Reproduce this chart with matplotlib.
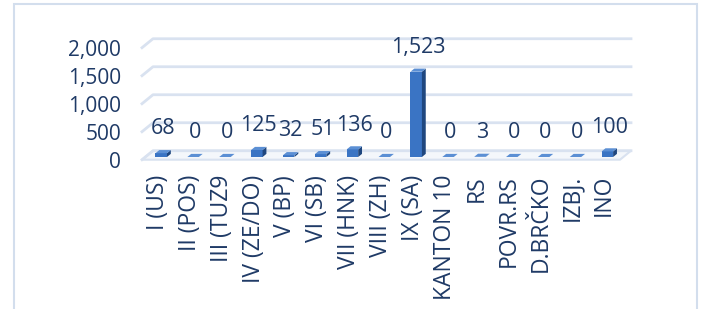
import matplotlib.pyplot as plt
from matplotlib.patches import Polygon, Rectangle

# chart data
categories = ['I (US)', 'II (POS)', 'III (TUZ9', 'IV (ZE/DO)', 'V (BP)', 'VI (SB)',
              'VII (HNK)', 'VIII (ZH)', 'IX (SA)', 'KANTON 10', 'RS', 'POVR.RS',
              'D.BRČKO', 'IZBJ.', 'INO']
values = [68, 0, 0, 125, 32, 51, 136, 0, 1523, 0, 3, 0, 0, 0, 100]
y_ticks = [0, 500, 1000, 1500, 2000]

TEXT = '#1f3a66'
GRID = '#d9e2f0'
FRONT = '#3a74c4'
SIDE = '#1f477f'
TOP = '#5b8fd4'

# pseudo-3d depth of the floor, in data units
dx, dy = 0.345, 160
d0, bd, w = 0.3, 0.35, 0.36

plt.rcParams['font.family'] = ['Open Sans', 'DejaVu Sans']

W, H = 701, 309
fig = plt.figure(figsize=(W / 100, H / 100), dpi=100)
fig.patch.set_facecolor('white')

# outer chart border
fig.patches.append(Rectangle((14 / W, -0.1), 683 / W, 1.1 - 4 / H,
                             transform=fig.transFigure, fill=False,
                             edgecolor='#d3deed', linewidth=1.5))

left, right, top, bottom = 142, 620, 47.7, 159.7
ax = fig.add_axes([left / W, 1 - bottom / H, (right - left) / W, (bottom - top) / H])
ax.set_xlim(-0.5, len(categories) - 0.5)
ax.set_ylim(0, 2000)
for s in ax.spines.values():
    s.set_visible(False)
ax.patch.set_alpha(0)

n = len(categories)
# floor
floor = Polygon([(-0.5, 0), (n - 0.5, 0), (n - 0.5 + dx, dy), (-0.5 + dx, dy)],
                closed=True, facecolor='#f4f7fb', edgecolor=GRID, linewidth=1.5,
                clip_on=False, zorder=1)
ax.add_patch(floor)

# gridlines on the back wall
for v in y_ticks:
    ax.plot([-0.5, -0.5 + dx, n - 0.5 + dx], [v, v + dy, v + dy],
            color=GRID, linewidth=2, clip_on=False, zorder=1)

# bars
xs = [i + d0 * dx for i in range(n)]
ax.bar(xs, values, width=w, bottom=d0 * dy, color=FRONT, zorder=3, clip_on=False)
for x, v in zip(xs, values):
    x0, x1 = x - w / 2, x + w / 2
    y0, y1 = d0 * dy, d0 * dy + v
    top_face = Polygon([(x0, y1), (x1, y1), (x1 + bd * dx, y1 + bd * dy), (x0 + bd * dx, y1 + bd * dy)],
                       closed=True, facecolor=TOP, edgecolor='none', zorder=3, clip_on=False)
    side_face = Polygon([(x1, y0), (x1, y1), (x1 + bd * dx, y1 + bd * dy), (x1 + bd * dx, y0 + bd * dy)],
                        closed=True, facecolor=SIDE, edgecolor='none', zorder=3, clip_on=False)
    ax.add_patch(side_face)
    ax.add_patch(top_face)
    ax.annotate(f'{v:,}', (x + bd * dx / 2, y1), xytext=(0, 17.5), textcoords='offset points',
                ha='center', va='center', fontsize=15.5, color=TEXT, zorder=4)

ax.set_yticks(y_ticks)
ax.set_yticklabels([f'{v:,}' for v in y_ticks], fontsize=15, color=TEXT)
ax.set_xticks(range(n))
ax.set_xticklabels(categories, rotation=90, fontsize=16.5, color=TEXT, va='top', ha='center')
ax.tick_params(axis='y', length=0, pad=15)
ax.tick_params(axis='x', length=0, pad=11)

fig.savefig('out.png', dpi=100)
